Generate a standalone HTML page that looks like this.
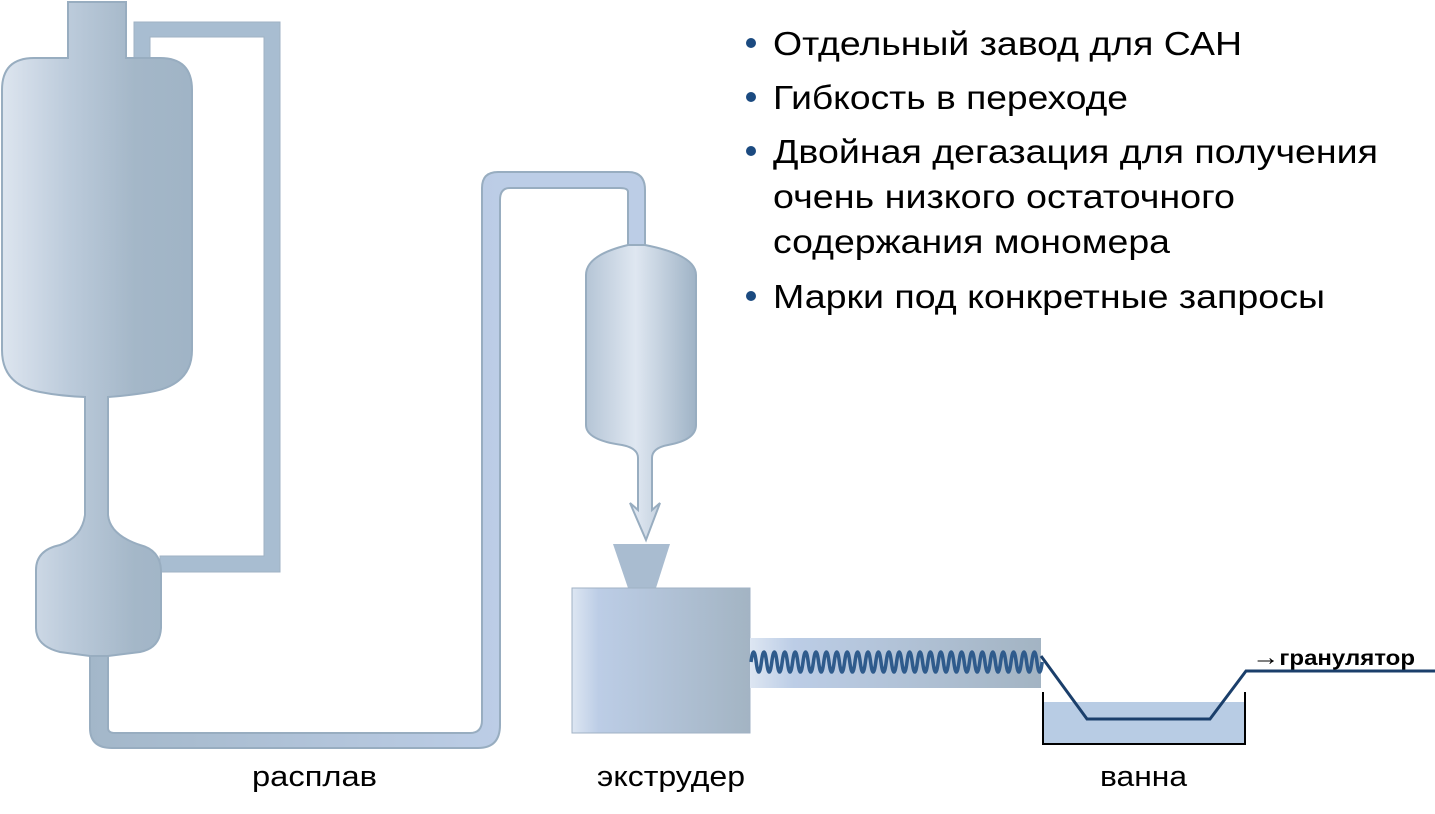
<!DOCTYPE html>
<html><head><meta charset="utf-8"><style>
html,body{margin:0;padding:0;background:#fff;width:1435px;height:814px;overflow:hidden}
svg{display:block}
text{font-family:"Liberation Sans",Arial,sans-serif}
</style></head><body>
<svg width="1435" height="814" viewBox="0 0 1435 814" xmlns="http://www.w3.org/2000/svg">
<defs>
<linearGradient id="g1" x1="0" x2="1" y1="0" y2="0">
<stop offset="0" stop-color="#dde5ef"/><stop offset="0.35" stop-color="#bccbdb"/><stop offset="0.7" stop-color="#a4b7c8"/><stop offset="1" stop-color="#a0b4c6"/>
</linearGradient>
<linearGradient id="g2" x1="0" x2="1" y1="0" y2="0">
<stop offset="0" stop-color="#b5c5d6"/><stop offset="0.45" stop-color="#dfe7f1"/><stop offset="1" stop-color="#9fb3c6"/>
</linearGradient>
<linearGradient id="g3" x1="0" x2="1" y1="0" y2="0">
<stop offset="0" stop-color="#dde6f2"/><stop offset="0.15" stop-color="#bccde6"/><stop offset="1" stop-color="#a3b4c3"/>
</linearGradient>
<linearGradient id="gp" gradientUnits="userSpaceOnUse" x1="90" y1="0" x2="500" y2="0"><stop offset="0" stop-color="#a3b7c9"/><stop offset="1" stop-color="#bccde6"/></linearGradient>
</defs>

<!-- recycle pipe -->
<path d="M134,60 L134,22 L280,22 L280,572 L160,572 L160,556 L264,556 L264,37 L150,37 L150,60 Z" fill="#a8bdd1" stroke="#9fb2c4" stroke-width="1"/>

<!-- melt pipe -->
<path d="M90,650 L90,728 Q90,748 112,748 L478,748 Q500,748 500,725 L500,200 Q500,188 510,188 L620,188 Q628,188 628,192 L628,250 L645,250 L645,190 Q645,172 628,172 L498,172 Q482,172 482,188 L482,720 Q482,733 470,733 L115,733 Q108,733 108,728 L108,650 Z" fill="url(#gp)" stroke="#98adc0" stroke-width="2"/>

<!-- big vessel + small vessel -->
<path d="M68,2 L126,2 L126,58 L160,58 Q192,58 192,90 L192,350 Q192,385 150,392 Q125,396 108,397 L108,515 Q110,535 140,545 Q160,550 161,570 L161,628 Q160,648 140,652 L108,656 L90,656 L60,652 Q36,646 36,628 L36,570 Q36,550 60,545 Q82,537 85,515 L85,397 Q60,396 40,392 Q2,385 2,350 L2,90 Q2,58 34,58 L68,58 Z" fill="url(#g1)" stroke="#98adc0" stroke-width="2"/>

<!-- second vessel -->
<path d="M645,245 Q696,255 696,275 L696,425 Q696,440 668,445 Q652,448 652,458 L652,510 L660,503 L646,540 L630,503 L638,510 L638,458 Q638,448 622,445 Q586,440 586,425 L586,275 Q586,255 628,245 Z" fill="url(#g2)" stroke="#98adc0" stroke-width="2"/>

<!-- hopper -->
<path d="M613,544 L670,544 L656,588 L628,588 Z" fill="#a9bcd0"/>
<!-- extruder -->
<rect x="572" y="588" width="178" height="145" fill="url(#g3)" stroke="#a0b2c4" stroke-width="1"/>
<rect x="750" y="638" width="291" height="50" fill="url(#g3)"/>
<!-- bath -->
<rect x="1043" y="702" width="202" height="42" fill="#b8cce4"/>
<path d="M1043,692 L1043,744 L1245,744 L1245,692" fill="none" stroke="#000" stroke-width="2"/>
<!-- spring -->
<path d="M751,662 q2.6,-20 5.2,0 t5.2,0 t5.2,0 t5.2,0 t5.2,0 t5.2,0 t5.2,0 t5.2,0 t5.2,0 t5.2,0 t5.2,0 t5.2,0 t5.2,0 t5.2,0 t5.2,0 t5.2,0 t5.2,0 t5.2,0 t5.2,0 t5.2,0 t5.2,0 t5.2,0 t5.2,0 t5.2,0 t5.2,0 t5.2,0 t5.2,0 t5.2,0 t5.2,0 t5.2,0 t5.2,0 t5.2,0 t5.2,0 t5.2,0 t5.2,0 t5.2,0 t5.2,0 t5.2,0 t5.2,0 t5.2,0 t5.2,0 t5.2,0 t5.2,0 t5.2,0 t5.2,0 t5.2,0 t5.2,0 t5.2,0 t5.2,0 t5.2,0 t5.2,0 t5.2,0 t5.2,0 t5.2,0 t5.2,0 t5.2,0" fill="none" stroke="#2f5b8c" stroke-width="3.5"/>
<!-- strand -->
<path d="M1041,656 L1087,719 L1210,719 L1246,671 L1435,671" fill="none" stroke="#1b3f6b" stroke-width="3"/>
<text x="1252" y="665" font-size="21" font-weight="bold" fill="#000" textLength="163" lengthAdjust="spacingAndGlyphs"><tspan font-size="24">→</tspan>гранулятор</text>

<!-- labels -->
<text x="252" y="786" font-size="29" fill="#000" textLength="125" lengthAdjust="spacingAndGlyphs">расплав</text>
<text x="597" y="786" font-size="29" fill="#000" textLength="148" lengthAdjust="spacingAndGlyphs">экструдер</text>
<text x="1100" y="786" font-size="29" fill="#000" textLength="87" lengthAdjust="spacingAndGlyphs">ванна</text>

<!-- bullets -->
<g fill="#1b4a80">
<circle cx="751" cy="43" r="5"/><circle cx="751" cy="97" r="5"/><circle cx="751" cy="151" r="5"/><circle cx="751" cy="296" r="5"/>
</g>
<g font-size="33" fill="#000">
<text x="773" y="55" textLength="469" lengthAdjust="spacingAndGlyphs">Отдельный завод для САН</text>
<text x="773" y="109" textLength="355" lengthAdjust="spacingAndGlyphs">Гибкость в переходе</text>
<text x="773" y="163" textLength="605" lengthAdjust="spacingAndGlyphs">Двойная дегазация для получения</text>
<text x="773" y="208" textLength="462" lengthAdjust="spacingAndGlyphs">очень низкого остаточного</text>
<text x="773" y="253" textLength="397" lengthAdjust="spacingAndGlyphs">содержания мономера</text>
<text x="773" y="308" textLength="552" lengthAdjust="spacingAndGlyphs">Марки под конкретные запросы</text>
</g>
</svg>
</body></html>
